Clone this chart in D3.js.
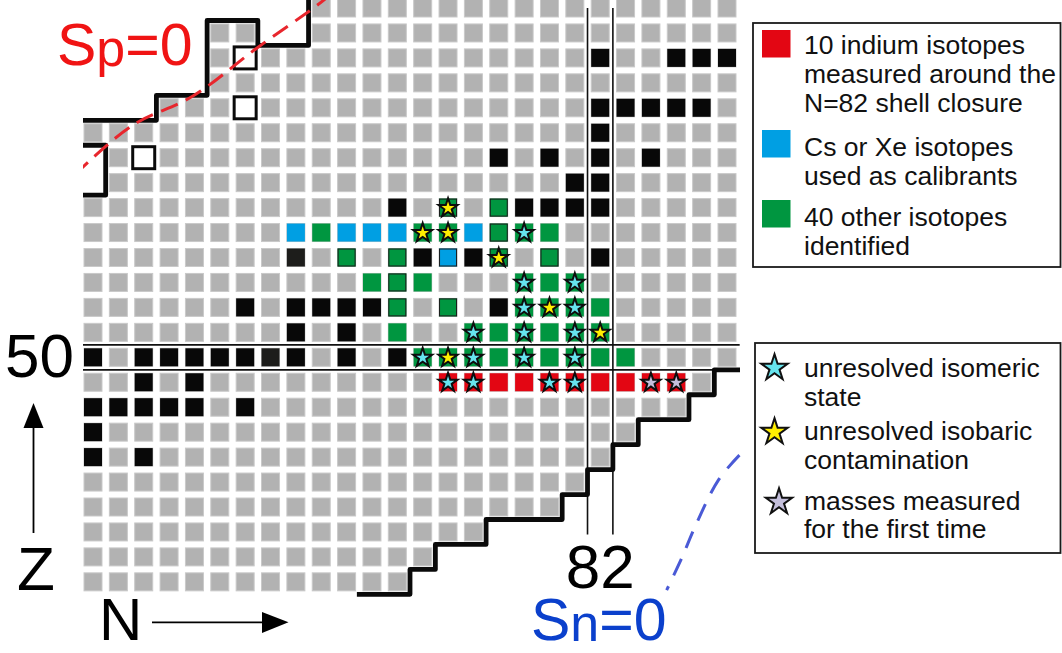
<!DOCTYPE html>
<html>
<head>
<meta charset="utf-8">
<script src="https://cdn.jsdelivr.net/npm/d3@7"></script>
<style>
  html, body { margin: 0; padding: 0; background: #fff; }
  svg { display: block; }
  text { font-family: "Liberation Sans", Arial, Helvetica, sans-serif; }
</style>
</head>
<body>
<svg id="chart" width="1062" height="653"></svg>
<script>
// ---- Nuclide grid: rows of proton number Z, each with spans of neutron number N
const rowZ = [64, 63, 62, 61, 60, 59, 58, 57, 56, 55, 54, 53, 52, 51, 50, 49, 48, 47, 46, 45, 44, 43, 42, 41];
const rowSpans = [
  [[71, 87]], [[67, 68], [71, 87]], [[67, 87]], [[67, 87]], [[65, 87]], [[62, 87]], [[63, 87]], [[63, 87]],
  [[62, 87]], [[62, 87]], [[62, 87]], [[62, 87]], [[62, 87]], [[62, 87]], [[62, 87]],
  [[62, 86]], [[62, 85]], [[62, 83]], [[62, 82]], [[62, 81]], [[62, 80]], [[62, 77]], [[62, 75]], [[62, 74]]
];

// Stable nuclides [N, Z]
const stable = [
  [82, 62], [85, 62], [86, 62], [87, 62],
  [82, 60], [83, 60], [84, 60], [85, 60], [86, 60],
  [82, 59],
  [78, 58], [80, 58], [82, 58], [84, 58],
  [81, 57], [82, 57],
  [74, 56], [79, 56], [80, 56], [81, 56], [82, 56],
  [75, 54], [77, 54], [82, 54],
  [68, 52], [70, 52], [71, 52], [72, 52], [73, 52], [78, 52],
  [70, 51], [72, 51],
  [62, 50], [64, 50], [65, 50], [66, 50], [67, 50], [68, 50], [70, 50], [72, 50], [74, 50],
  [64, 49], [66, 49],
  [62, 48], [63, 48], [64, 48], [65, 48], [66, 48], [68, 48],
  [62, 47],
  [62, 46], [64, 46]
];
const nearlyStable = [[69, 50], [70, 54]];

// Measured nuclides [N, Z]
const indium = [[76, 49], [77, 49], [78, 49], [79, 49], [80, 49], [81, 49], [82, 49], [83, 49], [84, 49], [85, 49]];
const calibrants = [[70, 55], [72, 55], [73, 55], [74, 55], [77, 55], [76, 54]];
const others = [
  [76, 56], [78, 56],
  [71, 55], [75, 55], [76, 55], [78, 55], [79, 55], [80, 55],
  [72, 54], [74, 54], [78, 54], [80, 54],
  [73, 53], [74, 53], [75, 53], [79, 53], [80, 53], [81, 53],
  [74, 52], [76, 52], [79, 52], [80, 52], [81, 52], [82, 52],
  [74, 51], [77, 51], [78, 51], [79, 51], [80, 51], [81, 51], [82, 51],
  [75, 50], [76, 50], [77, 50], [78, 50], [79, 50], [80, 50], [81, 50], [82, 50], [83, 50]
];
// measured nuclides that are also stable carry a thin dark outline
const outlinedStable = [[78, 55], [72, 54], [74, 54], [76, 54], [80, 54], [78, 54], [74, 53], [74, 52], [76, 52], [76, 56], [78, 56]];

// Star flags [N, Z]
const isomericStars = [
  [79, 55], [79, 53], [81, 53], [79, 52], [81, 52], [77, 51], [79, 51], [81, 51],
  [75, 50], [77, 50], [79, 50], [81, 50], [76, 49], [77, 49], [80, 49], [81, 49]
];
const isobaricStars = [[76, 56], [75, 55], [76, 55], [78, 54], [80, 52], [82, 51], [76, 50]];
const firstTimeStars = [[84, 49], [85, 49]];

// Open (unbound) squares [N, Z]
const openSquares = [[68, 62], [68, 60], [64, 58]];

// Drip-line borders as [N, Z] vertices on the half-integer cell gaps
const protonEdge = [[70.5, 64.8], [70.5, 62.5], [68.5, 62.5], [68.5, 63.5], [66.5, 63.5], [66.5, 60.5], [64.5, 60.5], [64.5, 59.5], [61.2, 59.5]];
const protonNotch = [[61.2, 58.5], [62.5, 58.5], [62.5, 56.5], [61.2, 56.5]];
const neutronEdge = [[87.8, 49.5], [86.5, 49.5], [86.5, 48.5], [85.5, 48.5], [85.5, 47.5], [83.5, 47.5], [83.5, 46.5],
  [82.5, 46.5], [82.5, 45.5], [81.5, 45.5], [81.5, 44.5], [80.5, 44.5], [80.5, 43.5], [77.5, 43.5], [77.5, 42.5],
  [75.5, 42.5], [75.5, 41.5], [74.5, 41.5], [74.5, 40.5], [72.5, 40.5]];

// Separation-energy lines [N, Z]
const spZero = [[61.3, 57.3], [61.65, 57.67], [63.58, 59.31], [65.94, 60.47], [68.47, 62.4], [70.75, 64.04], [71.2, 64.4]];
const snZero = [[87.49, 46.08], [86.66, 45.08], [85.74, 43.21], [85.21, 41.94], [84.62, 40.67]];

// Magic numbers
const magicZ = 50;
const magicN = 82;

// Legend entries
const boxLegend = [
  { color: "#e30613", lines: ["10 indium isotopes", "measured around the", "N=82 shell closure"] },
  { color: "#009fe3", lines: ["Cs or Xe isotopes", "used as calibrants"] },
  { color: "#009640", lines: ["40 other isotopes", "identified"] }
];
const starLegend = [
  { color: "#66e4ee", lines: ["unresolved isomeric", "state"] },
  { color: "#ffee00", lines: ["unresolved isobaric", "contamination"] },
  { color: "#c4bfdc", lines: ["masses measured", "for the first time"] }
];

// ---- Drawing
const svg = d3.select("#chart");
const x = d3.scaleLinear().domain([62, 87]).range([93, 727]);   // cell centres in N
const y = d3.scaleLinear().domain([64, 41]).range([8, 581.85]); // cell centres in Z
const cell = 18;

svg.append("defs").append("clipPath").attr("id", "plotClip")
  .append("rect").attr("x", 83).attr("y", 0).attr("width", 657).attr("height", 653);

const plot = svg.append("g").attr("clip-path", "url(#plotClip)");

// background grid of known nuclides
const gridCells = [];
rowZ.forEach((z, i) => rowSpans[i].forEach(([n0, n1]) => {
  for (let n = n0; n <= n1; n++) gridCells.push([n, z]);
}));

plot.append("g").selectAll("rect").data(gridCells).join("rect")
  .attr("x", d => x(d[0]) - cell / 2).attr("y", d => y(d[1]) - cell / 2)
  .attr("width", cell).attr("height", cell)
  .attr("fill", "#b2b2b2").attr("stroke", "#c9c9c9").attr("stroke-width", 1);

function cells(data, fill, cls) {
  plot.append("g").attr("class", cls).selectAll("rect").data(data).join("rect")
    .attr("x", d => x(d[0]) - cell / 2).attr("y", d => y(d[1]) - cell / 2)
    .attr("width", cell).attr("height", cell)
    .attr("fill", fill);
}
cells(stable, "#080808", "stable");
cells(nearlyStable, "#1d1d1b", "nearly-stable");
cells(indium, "#e30613", "indium");
cells(calibrants, "#009fe3", "calibrants");
cells(others, "#009640", "others");

plot.append("g").selectAll("rect").data(outlinedStable).join("rect")
  .attr("x", d => x(d[0]) - cell / 2 + 0.5).attr("y", d => y(d[1]) - cell / 2 + 0.5)
  .attr("width", cell - 1).attr("height", cell - 1)
  .attr("fill", "none").attr("stroke", "#1b1b1b").attr("stroke-width", 1);

// open squares
plot.append("g").selectAll("rect").data(openSquares).join("rect")
  .attr("x", d => x(d[0]) - 11).attr("y", d => y(d[1]) - 11)
  .attr("width", 22).attr("height", 22)
  .attr("fill", "#fff").attr("stroke", "#0a0a0a").attr("stroke-width", 3);

// stars
const starPath = d3.symbol(d3.symbolStar, 112)();
function stars(data, fill) {
  plot.append("g").selectAll("path").data(data).join("path")
    .attr("d", starPath)
    .attr("transform", d => `translate(${x(d[0])},${y(d[1]) + 0.5})`)
    .attr("fill", fill).attr("stroke", "#0d0d0d").attr("stroke-width", 2).attr("stroke-linejoin", "miter");
}
stars(isomericStars, "#66e4ee");
stars(isobaricStars, "#ffee00");
stars(firstTimeStars, "#c4bfdc");

// magic-number guide lines
const guides = plot.append("g").attr("stroke", "#111").attr("stroke-width", 1.8);
[magicZ + 0.5, magicZ - 0.5].forEach(z => {
  guides.append("line").attr("x1", x(61.5)).attr("x2", x(87.5)).attr("y1", y(z)).attr("y2", y(z));
});
[magicN - 0.5, magicN + 0.5].forEach(n => {
  guides.append("line").attr("x1", x(n)).attr("x2", x(n)).attr("y1", y(64)).attr("y2", y(42.9))
    .attr("stroke-width", 1.6);
});

// drip-line borders
const edge = d3.line().x(d => x(d[0])).y(d => y(d[1]));
[protonEdge, protonNotch, neutronEdge].forEach(pts => {
  plot.append("path").attr("d", edge(pts))
    .attr("fill", "none").attr("stroke", "#0a0a0a").attr("stroke-width", 4.8)
    .attr("stroke-linejoin", "round").attr("stroke-linecap", "square");
});

// S=0 curves
const smooth = d3.line().x(d => x(d[0])).y(d => y(d[1])).curve(d3.curveCatmullRom);
plot.append("path").attr("d", smooth(spZero))
  .attr("fill", "none").attr("stroke", "#e8262d").attr("stroke-width", 3)
  .attr("stroke-dasharray", "18 9");
svg.append("path").attr("d", smooth(snZero))
  .attr("fill", "none").attr("stroke", "#4a5ad6").attr("stroke-width", 3)
  .attr("stroke-dasharray", "18 12");

// ---- Labels
svg.append("text").attr("x", 74).attr("y", 377).attr("text-anchor", "end")
  .attr("font-size", 62).attr("fill", "#000").text(magicZ);
svg.append("text").attr("x", x(magicN)).attr("y", 588).attr("text-anchor", "middle")
  .attr("font-size", 62).attr("fill", "#000").text(magicN);

// separation-energy labels: symbol, lowercase index, "=0" laid out piece by piece
function sepLabel(x0, base, size, color, index) {
  const g = svg.append("g").attr("fill", color);
  const parts = [["S", size, 0], [index, size * 0.88, 1], ["=0", size, 0]];
  let cx = x0;
  parts.forEach(([t, fs, dy]) => {
    const el = g.append("text").attr("x", cx).attr("y", base + dy).attr("font-size", fs).text(t);
    cx += el.node().getComputedTextLength();
  });
}
sepLabel(57, 65, 59, "#f01414", "p");
sepLabel(531, 640, 59, "#0b40cc", "n");

// axis arrows
svg.append("text").attr("x", 36).attr("y", 590).attr("text-anchor", "middle")
  .attr("font-size", 62).attr("fill", "#000").text("Z");
svg.append("line").attr("x1", 33.5).attr("x2", 33.5).attr("y1", 533).attr("y2", 426)
  .attr("stroke", "#000").attr("stroke-width", 1.8);
svg.append("path").attr("d", "M23.5,428L43.5,428L33.5,403Z").attr("fill", "#000");

svg.append("text").attr("x", 99).attr("y", 640)
  .attr("font-size", 60).attr("fill", "#000").text("N");
svg.append("line").attr("x1", 152).attr("x2", 264).attr("y1", 622.3).attr("y2", 622.3)
  .attr("stroke", "#000").attr("stroke-width", 1.8);
svg.append("path").attr("d", "M262,612L262,633L288.5,622.3Z").attr("fill", "#000");

// ---- Legends
const lg1 = svg.append("g");
lg1.append("rect").attr("x", 753).attr("y", 23).attr("width", 307.5).attr("height", 244)
  .attr("fill", "#fff").attr("stroke", "#1a1a1a").attr("stroke-width", 1.8);
const lg1Tops = [30, 130, 200];
const lg1Base = [54, 156, 225.5];
boxLegend.forEach((d, i) => {
  lg1.append("rect").attr("x", 762).attr("y", lg1Tops[i]).attr("width", 28.5).attr("height", 27.5).attr("fill", d.color);
  d.lines.forEach((t, j) => {
    lg1.append("text").attr("x", 804).attr("y", lg1Base[i] + j * 29)
      .attr("font-size", 26.5).attr("fill", "#111").text(t);
  });
});

const lg2 = svg.append("g");
lg2.append("rect").attr("x", 755).attr("y", 343).attr("width", 305.5).attr("height", 210)
  .attr("fill", "#fff").attr("stroke", "#1a1a1a").attr("stroke-width", 1.8);
const legendStar = d3.symbol(d3.symbolStar, 215)();
const lg2Star = [[774.5, 368], [774.5, 432], [779, 502]];
const lg2Base = [377, 440, 509.5];
starLegend.forEach((d, i) => {
  lg2.append("path").attr("d", legendStar)
    .attr("transform", `translate(${lg2Star[i][0]},${lg2Star[i][1]})`)
    .attr("fill", d.color).attr("stroke", "#111").attr("stroke-width", 2);
  d.lines.forEach((t, j) => {
    lg2.append("text").attr("x", 804).attr("y", lg2Base[i] + j * 28.5)
      .attr("font-size", 26.5).attr("fill", "#111").text(t);
  });
});
</script>
</body>
</html>
